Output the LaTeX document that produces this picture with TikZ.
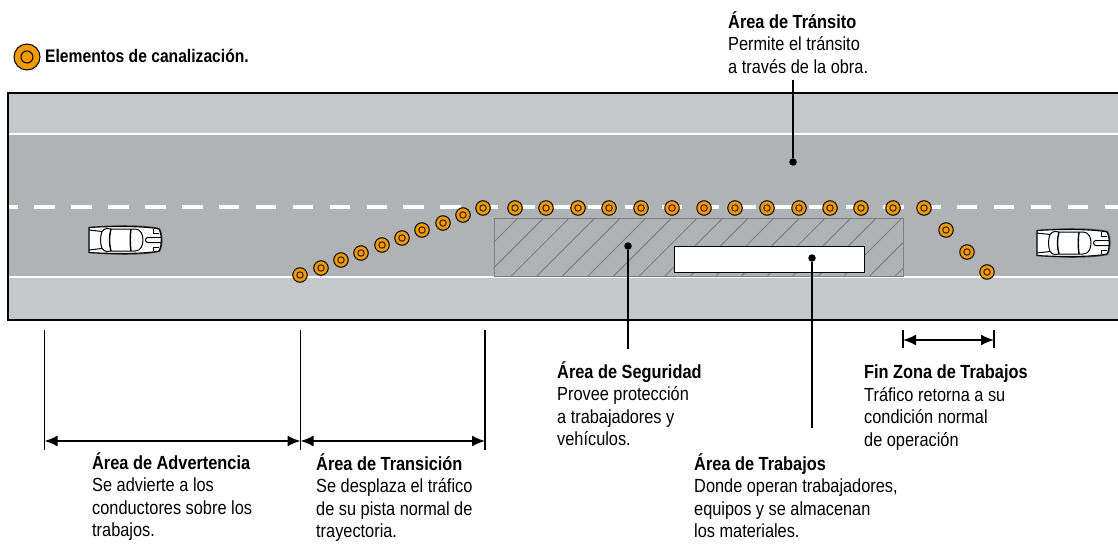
\documentclass[tikz,border=0pt]{standalone}
\usepackage{fontspec}
\setmainfont{Liberation Sans}[FakeStretch=0.86]
\usetikzlibrary{arrows.meta}
\definecolor{shoulder}{HTML}{C6C7C9}
\definecolor{lane}{HTML}{B1B2B4}
\definecolor{conefill}{HTML}{F39A00}
\definecolor{hatch}{HTML}{7F8083}
\tikzset{
  txt/.style={anchor=north west,inner sep=0pt,align=left,font=\fontsize{19}{22.6}\selectfont},
  conemark/.style={circle,draw=black,fill=conefill,line width=1pt,minimum size=14.5pt,inner sep=0pt,
    path picture={\draw[black!80!conefill,line width=1pt] (path picture bounding box.center) circle (3.2pt);}},
  legendcone/.style={circle,draw=black,fill=conefill,line width=1pt,minimum size=26pt,inner sep=0pt,
    path picture={\draw[black,line width=1pt] (path picture bounding box.center) circle (6pt);}},
  leaderdot/.style={circle,fill=black,minimum size=7.5pt,inner sep=0pt},
  leader/.style={draw=black,line width=1.7pt},
  tick/.style={draw=black,line width=1.5pt},
  dim/.style={draw=black,line width=1.7pt,{Latex[length=13pt,width=11pt]}-{Latex[length=13pt,width=11pt]}},
  carbit/.style={draw=black,line width=1pt,line join=round},
  car/.pic={
    \fill[black!55!lane] (0,-13) .. controls (25,-15.5) and (55,-15.5) .. (71,-12) .. controls (74.5,-5) and (74.5,5) .. (71,12) .. controls (55,15.5) and (25,15.5) .. (0,13) -- cycle;
    \draw[carbit,fill=white,line width=1.1pt] (0,-12.5) .. controls (25,-14) and (55,-14) .. (70,-11) .. controls (73,-5) and (73,5) .. (70,11) .. controls (55,14) and (25,14) .. (0,12.5) -- cycle;
    \draw[carbit] (0,-10) -- (13,-8.5) .. controls (11,-3) and (11,3) .. (13,8.5) -- (0,10);
    \draw[carbit] (13,-8.5) .. controls (16,-13) and (20,-11) .. (22,-11) -- (46,-11) .. controls (52,-11) and (54,-5) .. (54,0) .. controls (54,5) and (52,11) .. (46,11) -- (22,11) .. controls (20,11) and (16,13) .. (13,8.5);
    \draw[carbit,line width=1.4pt] (22,-11) .. controls (20,-4) and (20,4) .. (22,11);
    \draw[carbit,line width=1.4pt] (42,-11) .. controls (41,-4) and (41,4) .. (42,11);
    \draw[carbit] (64,-2.5) -- (59,-2.5) arc[start angle=270,end angle=90,radius=2.5] -- (72,2.5);
    \draw[carbit] (59,-2.5) -- (72,-2.5);
    \draw[carbit] (64,-11) -- (64,-7) -- (70,-7);
    \draw[carbit] (64,11) -- (64,7) -- (70,7);
  }
}
\begin{document}
\begin{tikzpicture}[x=1pt,y=-1pt]
\useasboundingbox (0,0) rectangle (1118,543);
% road
\fill[shoulder] (8,93) rectangle (1118,320);
\fill[lane] (8,134) rectangle (1118,277);
\draw[white,line width=2.4pt] (8,134) -- (1118,134);
\draw[white,line width=2.4pt] (8,277) -- (1118,277);
\draw[white,line width=3.4pt,dash pattern=on 20.5pt off 16.4pt,dash phase=11.5pt] (9,207) -- (1118,207);
\draw[black,line width=1.7pt] (1118,93) -- (8,93) -- (8,320) -- (1118,320);
% hatched area
\begin{scope}
\clip (493.5,217.5) rectangle (903,276);
\foreach \k in {0,...,18} {
  \pgfmathsetmacro{\s}{736+25.6*\k}
  \draw[hatch,line width=1pt] ({\s-276},276) -- ({\s-218},218);
}
\end{scope}
\node[draw=hatch,line width=1.5pt,minimum width=409pt,minimum height=58pt,inner sep=0pt,anchor=north west] (seg) at (493.5,217.5) {};
\node[draw=black,fill=white,line width=1.2pt,minimum width=190pt,minimum height=26pt,inner sep=0pt,anchor=north west] (trab) at (673.5,245.5) {};
% cones
\foreach \i/\x/\y in {1/300/275,2/321/268,3/341/260,4/361/253,5/382/245,6/402/238,7/422/230,8/443/223,9/463/215,10/483/208,
  11/515/208,12/546/208,13/578/208,14/609/208,15/641/208,16/672/208,17/704/208,18/735/208,19/767/208,20/799/208,21/830/208,22/861/208,23/893/208,24/924/208,
  25/946/230,26/967/252,27/987/272}
  \node[conemark] (c\i) at (\x,\y) {};
\node[legendcone] (legcone) at (27,57) {};
\node[anchor=base west,inner sep=0pt,font=\fontsize{18.2}{20}\selectfont\bfseries] (legtxt) at (45,63) {Elementos de canalización.};
% cars
\pic at (89,240) {car};
\pic at (1037,243) {car};
% leaders
\node[leaderdot] (d1) at (793,162) {};
\node[leaderdot] (d2) at (628,246) {};
\node[leaderdot] (d3) at (812,258) {};
\coordinate (e1) at (793,80);
\coordinate (e2) at (628,349);
\coordinate (e3) at (812,428);
\draw[leader] (e1) -- (d1);
\draw[leader] (d2) -- (e2);
\draw[leader] (d3) -- (e3);
% dimensions
\coordinate (t1a) at (44.5,330); \coordinate (t1b) at (44.5,450);
\coordinate (t2a) at (300.5,330); \coordinate (t2b) at (300.5,450);
\coordinate (t3a) at (485,330); \coordinate (t3b) at (485,450);
\coordinate (t4a) at (903,330); \coordinate (t4b) at (903,348);
\coordinate (t5a) at (994,330); \coordinate (t5b) at (994,348);
\draw[tick] (t1a) -- (t1b);
\draw[tick] (t2a) -- (t2b);
\draw[tick] (t3a) -- (t3b);
\draw[tick] (t4a) -- (t4b);
\draw[tick] (t5a) -- (t5b);
\coordinate (a1) at (44.5,441); \coordinate (a2) at (300.5,441); \coordinate (a3) at (485,441);
\coordinate (a4) at (903,340); \coordinate (a5) at (994,340);
\draw[dim] (a1) -- (a2);
\draw[dim] (a2) -- (a3);
\draw[dim] (a4) -- (a5);
% labels
\node[txt] (l1) at (728,11) {\textbf{Área de Tránsito}\\Permite el tránsito\\a través de la obra.};
\node[txt] (l2) at (557,361) {\textbf{Área de Seguridad}\\Provee protección\\a trabajadores y\\vehículos.};
\node[txt] (l3) at (864,362) {\vphantom{Á}\textbf{Fin Zona de Trabajos}\\Tráfico retorna a su\\condición normal\\de operación};
\node[txt] (l4) at (694,453) {\textbf{Área de Trabajos}\\Donde operan trabajadores,\\equipos y se almacenan\\los materiales.};
\node[txt] (l5) at (92,452) {\textbf{Área de Advertencia}\\Se advierte a los\\conductores sobre los\\trabajos.};
\node[txt] (l6) at (316,453) {\textbf{Área de Transición}\\Se desplaza el tráfico\\de su pista normal de\\trayectoria.};
\end{tikzpicture}
\end{document}
